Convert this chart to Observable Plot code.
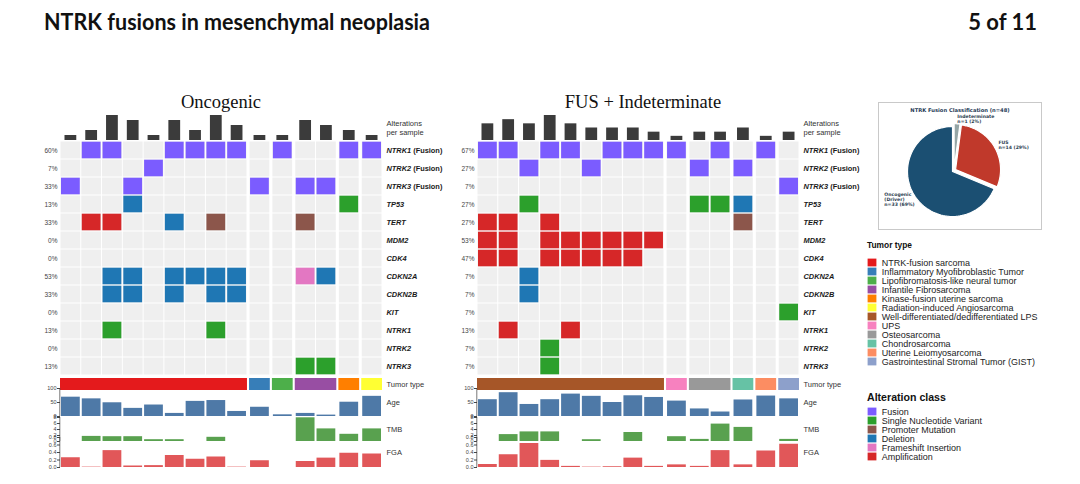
<!DOCTYPE html>
<html><head><meta charset="utf-8">
<script src="https://cdn.jsdelivr.net/npm/d3@7"></script>
<script src="https://cdn.jsdelivr.net/npm/@observablehq/plot@0.6"></script>
<style>
html,body{margin:0;padding:0;background:#fff;}
#root{position:relative;width:1080px;height:484px;overflow:hidden;background:#fff;font-family:"Liberation Sans",Arial,sans-serif;}
</style></head><body><div id="root"></div>
<script>
// ---------- data ----------
const genes = ["NTRK1 (Fusion)","NTRK2 (Fusion)","NTRK3 (Fusion)","TP53","TERT","MDM2","CDK4","CDKN2A","CDKN2B","KIT","NTRK1","NTRK2","NTRK3"];
const alterationClasses = ["Fusion","Single Nucleotide Variant","Promoter Mutation","Deletion","Frameshift Insertion","Amplification"];
const alterationColors = ["#7b5cff","#2ca02c","#8c564b","#1f77b4","#e377c2","#d62728"];
const tumorTypes = ["NTRK-fusion sarcoma","Inflammatory Myofibroblastic Tumor","Lipofibromatosis-like neural tumor","Infantile Fibrosarcoma","Kinase-fusion uterine sarcoma","Radiation-induced Angiosarcoma","Well-differentiated/dedifferentiated LPS","UPS","Osteosarcoma","Chondrosarcoma","Uterine Leiomyosarcoma","Gastrointestinal Stromal Tumor (GIST)"];
const tumorColors = ["#e41a1c","#377eb8","#4daf4a","#984ea3","#ff7f00","#ffff33","#a65628","#f781bf","#999999","#66c2a5","#fc8d62","#8da0cb"];

// Oncogenic panel
const oncoTumor = ["NTRK-fusion sarcoma","NTRK-fusion sarcoma","NTRK-fusion sarcoma","NTRK-fusion sarcoma","NTRK-fusion sarcoma","NTRK-fusion sarcoma","NTRK-fusion sarcoma","NTRK-fusion sarcoma","NTRK-fusion sarcoma","Inflammatory Myofibroblastic Tumor","Lipofibromatosis-like neural tumor","Infantile Fibrosarcoma","Infantile Fibrosarcoma","Kinase-fusion uterine sarcoma","Radiation-induced Angiosarcoma"];
const oncoCounts = [1,2,5,4,1,4,2,5,3,1,1,4,3,2,1];
const oncoPct = ["60%","7%","33%","13%","33%","0%","0%","53%","33%","0%","13%","0%","13%"];
const oncoAlterations = [
  [0,"NTRK3 (Fusion)","Fusion"],
  [1,"NTRK1 (Fusion)","Fusion"],[1,"TERT","Amplification"],
  [2,"NTRK1 (Fusion)","Fusion"],[2,"TERT","Amplification"],[2,"CDKN2A","Deletion"],[2,"CDKN2B","Deletion"],[2,"NTRK1","Single Nucleotide Variant"],
  [3,"NTRK3 (Fusion)","Fusion"],[3,"TP53","Deletion"],[3,"CDKN2A","Deletion"],[3,"CDKN2B","Deletion"],
  [4,"NTRK2 (Fusion)","Fusion"],
  [5,"NTRK1 (Fusion)","Fusion"],[5,"TERT","Deletion"],[5,"CDKN2A","Deletion"],[5,"CDKN2B","Deletion"],
  [6,"NTRK1 (Fusion)","Fusion"],[6,"CDKN2A","Deletion"],
  [7,"NTRK1 (Fusion)","Fusion"],[7,"TERT","Promoter Mutation"],[7,"CDKN2A","Deletion"],[7,"CDKN2B","Deletion"],[7,"NTRK1","Single Nucleotide Variant"],
  [8,"NTRK1 (Fusion)","Fusion"],[8,"CDKN2A","Deletion"],[8,"CDKN2B","Deletion"],
  [9,"NTRK3 (Fusion)","Fusion"],
  [10,"NTRK1 (Fusion)","Fusion"],
  [11,"NTRK3 (Fusion)","Fusion"],[11,"TERT","Promoter Mutation"],[11,"CDKN2A","Frameshift Insertion"],[11,"NTRK3","Single Nucleotide Variant"],
  [12,"NTRK3 (Fusion)","Fusion"],[12,"CDKN2A","Deletion"],[12,"NTRK3","Single Nucleotide Variant"],
  [13,"NTRK1 (Fusion)","Fusion"],[13,"TP53","Single Nucleotide Variant"],
  [14,"NTRK1 (Fusion)","Fusion"]
];
const oncoAge = [69,63,49,29,41,11,54,57,18,33,6,11,5,51,72];
const oncoTMB = [null,1.7,1.6,1.6,0.6,0.6,null,1.4,null,null,null,7.9,4.2,2.4,4.2];
const oncoFGA = [0.26,0.01,0.45,0.04,0.05,0.32,0.22,0.28,0.01,0.18,null,0.16,0.25,0.38,0.36];

// FUS + Indeterminate panel
const fusTumor = ["Well-differentiated/dedifferentiated LPS","Well-differentiated/dedifferentiated LPS","Well-differentiated/dedifferentiated LPS","Well-differentiated/dedifferentiated LPS","Well-differentiated/dedifferentiated LPS","Well-differentiated/dedifferentiated LPS","Well-differentiated/dedifferentiated LPS","Well-differentiated/dedifferentiated LPS","Well-differentiated/dedifferentiated LPS","UPS","Osteosarcoma","Osteosarcoma","Chondrosarcoma","Uterine Leiomyosarcoma","Gastrointestinal Stromal Tumor (GIST)"];
const fusCounts = [4,5,4,6,4,3,3,3,2,1,2,2,3,1,2];
const fusPct = ["67%","27%","7%","27%","27%","53%","47%","7%","7%","7%","13%","7%","7%"];
const fusAlterations = [
  [0,"NTRK1 (Fusion)","Fusion"],[0,"TERT","Amplification"],[0,"MDM2","Amplification"],[0,"CDK4","Amplification"],
  [1,"NTRK1 (Fusion)","Fusion"],[1,"TERT","Amplification"],[1,"MDM2","Amplification"],[1,"CDK4","Amplification"],[1,"NTRK1","Amplification"],
  [2,"NTRK2 (Fusion)","Fusion"],[2,"TP53","Single Nucleotide Variant"],[2,"CDKN2A","Deletion"],[2,"CDKN2B","Deletion"],
  [3,"NTRK1 (Fusion)","Fusion"],[3,"TERT","Amplification"],[3,"MDM2","Amplification"],[3,"CDK4","Amplification"],[3,"NTRK2","Single Nucleotide Variant"],[3,"NTRK3","Single Nucleotide Variant"],
  [4,"NTRK1 (Fusion)","Fusion"],[4,"MDM2","Amplification"],[4,"CDK4","Amplification"],[4,"NTRK1","Amplification"],
  [5,"NTRK2 (Fusion)","Fusion"],[5,"MDM2","Amplification"],[5,"CDK4","Amplification"],
  [6,"NTRK1 (Fusion)","Fusion"],[6,"MDM2","Amplification"],[6,"CDK4","Amplification"],
  [7,"NTRK1 (Fusion)","Fusion"],[7,"MDM2","Amplification"],[7,"CDK4","Amplification"],
  [8,"NTRK1 (Fusion)","Fusion"],[8,"MDM2","Amplification"],
  [9,"NTRK1 (Fusion)","Fusion"],
  [10,"NTRK2 (Fusion)","Fusion"],[10,"TP53","Single Nucleotide Variant"],
  [11,"NTRK1 (Fusion)","Fusion"],[11,"TP53","Single Nucleotide Variant"],
  [12,"NTRK2 (Fusion)","Fusion"],[12,"TP53","Deletion"],[12,"TERT","Promoter Mutation"],
  [13,"NTRK1 (Fusion)","Fusion"],
  [14,"NTRK3 (Fusion)","Fusion"],[14,"KIT","Single Nucleotide Variant"]
];
const fusAge = [60,85,43,60,80,72,50,74,68,55,27,16,59,73,63];
const fusTMB = [null,2.3,3.2,3.2,null,0.6,null,3.0,null,1.6,0.7,5.8,4.7,null,0.7];
const fusFGA = [0.08,0.34,0.64,0.19,0.03,0.01,0.02,0.25,0.03,0.07,0.03,0.45,0.07,0.44,0.62];

// pie
const pieNames = ["Oncogenic\n(Driver)\nn=33 (69%)","FUS\nn=14 (29%)","Indeterminate\nn=1 (2%)"];
const pieCounts = [33,14,1];
const pieColors = ["#1b4f72","#c0392b","#95a5a6"];

// ---------- helpers ----------
const root = document.getElementById("root");
function place(node, left, top) {
  node.style.position = "absolute";
  node.style.left = left + "px";
  node.style.top = top + "px";
  root.appendChild(node);
  return node;
}
const baseStyle = {background: "transparent", overflow: "visible", fontFamily: "'Liberation Sans', Arial, sans-serif", color: "#444"};

function styleFusion(svg) {
  d3.select(svg).selectAll("text").each(function () {
    const m = this.textContent.match(/^(\S+) (\(Fusion\))$/);
    if (m) {
      const s = d3.select(this);
      s.text(null);
      s.append("tspan").text(m[1]);
      s.append("tspan").attr("font-style", "normal").text(" " + m[2]);
    }
  });
}

function drawPanel(p) {
  const GAP = 0.1;
  let g = 0;
  const samples = p.tumor.map((t, i) => {
    if (i > 0 && t !== p.tumor[i - 1]) g++;
    const x1 = i + g * GAP;
    return {i, tumor: t, x1, x2: x1 + 1, count: p.counts[i], age: p.age[i], tmb: p.tmb[i], fga: p.fga[i]};
  });
  const total = samples[samples.length - 1].x2;
  const groups = d3.groups(samples, d => d.tumor).map(([tumor, arr]) => ({tumor, x1: arr[0].x1, x2: arr[arr.length - 1].x2}));
  const alts = p.alts.map(([s, gene, cls]) => ({x1: samples[s].x1, x2: samples[s].x2, gene, cls}));
  const base = {width: 462, marginLeft: 60, marginRight: 80, marginTop: 0, marginBottom: 0,
    x: {domain: [0, total], axis: null}, style: baseStyle};
  const sideLabel = (txt, opts = {}) => Plot.text([txt], {frameAnchor: "right", dx: 4, textAnchor: "start", fontSize: 7.5, fill: "#333", ...opts});

  // alterations per sample
  place(Plot.plot({...base, height: 25, y: {domain: [0, d3.max(p.counts)], axis: null},
    marks: [
      Plot.rect(samples, {x1: "x1", x2: "x2", y1: 0, y2: "count", fill: "#3b3b3b", insetLeft: 4.5, insetRight: 4.5}),
      sideLabel("Alterations\nper sample", {lineHeight: 1.15})
    ]}), p.left, 115);

  // oncoprint grid
  const grid = Plot.plot({...base, height: 234, y: {domain: genes, axis: null, padding: 0},
    color: {domain: alterationClasses, range: alterationColors},
    marks: [
      Plot.barX(d3.cross(samples, genes), {x1: d => d[0].x1, x2: d => d[0].x2, y: d => d[1], fill: "#efefef", inset: 0.5}),
      Plot.barX(alts, {x1: "x1", x2: "x2", y: "gene", fill: "cls", insetLeft: 1, insetRight: 1, insetTop: 0.7, insetBottom: 0.7}),
      Plot.text(genes, {y: d => d, text: (d, i) => p.pct[i], frameAnchor: "left", dx: -3, textAnchor: "end", fontSize: 6.5, fill: "#444"}),
      Plot.text(genes, {y: d => d, text: d => d, frameAnchor: "right", dx: 4, textAnchor: "start", fontSize: 7.4, fontWeight: "bold", fontStyle: "italic", fill: "#1a1a1a"})
    ]});
  styleFusion(grid);
  place(grid, p.left, 141);

  // tumor type strip
  place(Plot.plot({...base, height: 12, color: {domain: tumorTypes, range: tumorColors},
    marks: [
      Plot.barX(groups, {x1: "x1", x2: "x2", fill: "tumor"}),
      sideLabel("Tumor type")
    ]}), p.left, 378);

  const track = (key, domain, ticks, fill, label, top, height) =>
    place(Plot.plot({...base, height, y: {domain},
      marks: [
        Plot.rect(samples, {x1: "x1", x2: "x2", y1: 0, y2: key, fill, insetLeft: 1, insetRight: 1}),
        Plot.ruleX([0], {dx: -0.7, stroke: "#555", strokeWidth: 0.8}),
        Plot.axisY({ticks, tickSize: 3, tickPadding: 1, fontSize: 5.5, label: null}),
        sideLabel(label)
      ]}), p.left, top);
  track("age", [0, 100], [0, 50, 100], "#4e79a7", "Age", 388, 28);
  track("tmb", [0, 8], [0, 2, 4, 6, 8], "#59a14f", "TMB", 417, 24);
  track("fga", [0, 0.8], [0, 0.2, 0.4, 0.6, 0.8], "#e15759", "FGA", 437, 30);
}

drawPanel({left: 0, tumor: oncoTumor, counts: oncoCounts, pct: oncoPct, alts: oncoAlterations, age: oncoAge, tmb: oncoTMB, fga: oncoFGA});
drawPanel({left: 417, tumor: fusTumor, counts: fusCounts, pct: fusPct, alts: fusAlterations, age: fusAge, tmb: fusTMB, fga: fusFGA});

// ---------- pie ----------
const R = 45, EXPLODE = 0.04 * R;
const arcs = d3.pie().sort(null).startAngle(0).endAngle(-2 * Math.PI)(pieCounts);
const slices = arcs.map((a) => {
  const mid = (a.startAngle + a.endAngle) / 2;
  const ox = EXPLODE * Math.sin(mid), oy = EXPLODE * Math.cos(mid);
  const pts = [{x: ox, y: oy}];
  const n = 90;
  for (let j = 0; j <= n; j++) {
    const t = a.startAngle + (a.endAngle - a.startAngle) * j / n;
    pts.push({x: ox + R * Math.sin(t), y: oy + R * Math.cos(t)});
  }
  pts.push({x: ox, y: oy});
  return pts;
});
const pieLabels = arcs.map((a, k) => {
  const mid = (a.startAngle + a.endAngle) / 2;
  const d = 1.1 * R + EXPLODE;
  return {x: d * Math.sin(mid), y: d * Math.cos(mid), text: pieNames[k], k};
});
const pieText = {fontSize: 4.6, fontWeight: "bold", fill: "#2c3e50", fontFamily: "'DejaVu Sans', sans-serif", lineHeight: 1.1, textAnchor: "start"};
place(Plot.plot({width: 163, height: 127, margin: 0, x: {domain: [-75.5, 87.5], axis: null}, y: {domain: [-59, 68], axis: null},
  style: baseStyle,
  marks: [
    Plot.frame({stroke: "#c9c9c9", fill: "white"}),
    ...slices.map((pts, k) => Plot.line(pts, {x: "x", y: "y", fill: pieColors[k], stroke: "white", strokeWidth: 1.2})),
    Plot.text(pieLabels.filter(d => d.k === 0), {x: "x", y: "y", text: "text", dx: -27, ...pieText}),
    Plot.text(pieLabels.filter(d => d.k !== 0), {x: "x", y: "y", text: "text", ...pieText}),
    Plot.text(["NTRK Fusion Classification (n=48)"], {frameAnchor: "top", dy: 6, fontSize: 5.2, fontWeight: "bold", fill: "#1f3b57", fontFamily: "'DejaVu Sans', sans-serif"})
  ]}), 877.5, 102);

// ---------- legends ----------
function legend(names, colors, top) {
  return place(Plot.plot({width: 185, height: names.length * 9.9, marginLeft: 0, marginRight: 175, marginTop: 0, marginBottom: 0,
    x: {domain: ["s"], axis: null, padding: 0}, y: {domain: names, axis: null, padding: 0},
    color: {domain: names, range: colors}, style: baseStyle,
    marks: [
      Plot.cell(names, {x: () => "s", y: d => d, fill: d => d, inset: 0.6}),
      Plot.text(names, {y: d => d, text: d => d, frameAnchor: "right", dx: 4.2, textAnchor: "start", fontSize: 9, fill: "#222"})
    ]}), 866.5, top);
}
legend(tumorTypes, tumorColors, 253.4);
legend(alterationClasses, alterationColors, 404);

// ---------- titles ----------
const over = d3.create("svg").attr("width", 1080).attr("height", 484).style("pointer-events", "none");
over.append("text").attr("x", 44).attr("y", 30).attr("font-family", "Lato, 'Open Sans', sans-serif").attr("font-weight", 700)
  .attr("font-size", 22).attr("fill", "#111").attr("textLength", 386).attr("lengthAdjust", "spacingAndGlyphs")
  .text("NTRK fusions in mesenchymal neoplasia");
over.append("text").attr("x", 1037).attr("y", 30).attr("text-anchor", "end").attr("font-family", "Lato, 'Open Sans', sans-serif").attr("font-weight", 700)
  .attr("font-size", 22).attr("fill", "#111").text("5 of 11");
over.append("text").attr("x", 221).attr("y", 107.5).attr("text-anchor", "middle").attr("font-family", "'Liberation Serif', serif")
  .attr("font-size", 18.5).attr("fill", "#111").text("Oncogenic");
over.append("text").attr("x", 643).attr("y", 107.5).attr("text-anchor", "middle").attr("font-family", "'Liberation Serif', serif")
  .attr("font-size", 18.5).attr("fill", "#111").text("FUS + Indeterminate");
over.append("text").attr("x", 867).attr("y", 248).attr("font-family", "'Liberation Sans', Arial, sans-serif").attr("font-weight", 700)
  .attr("font-size", 8.4).attr("fill", "#111").text("Tumor type");
over.append("text").attr("x", 867).attr("y", 400.5).attr("font-family", "'Liberation Sans', Arial, sans-serif").attr("font-weight", 700)
  .attr("font-size", 10.6).attr("fill", "#111").text("Alteration class");
place(over.node(), 0, 0);
</script></body></html>
